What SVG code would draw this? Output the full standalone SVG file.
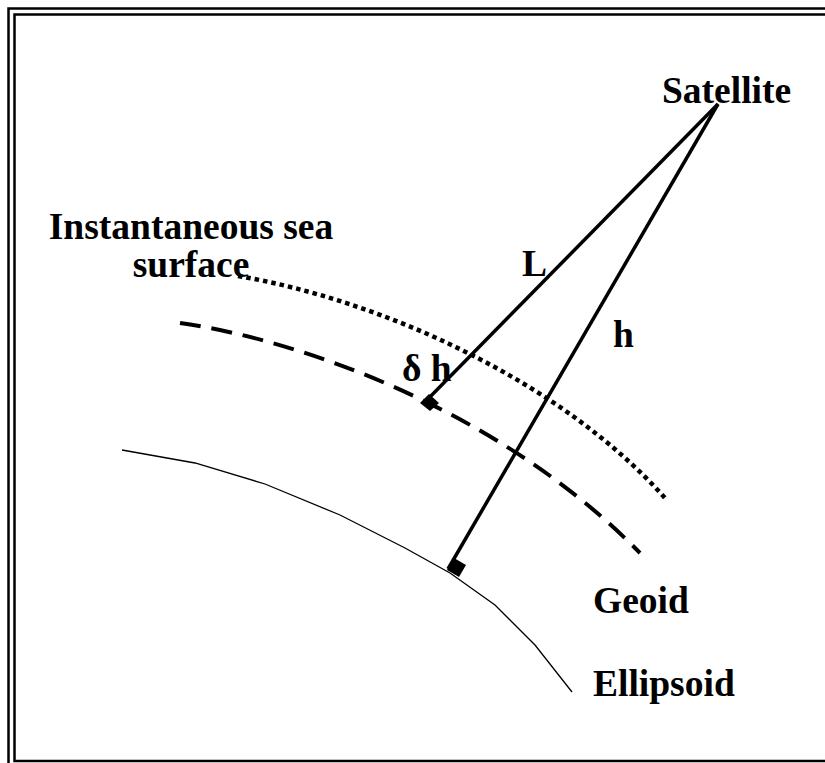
<svg xmlns="http://www.w3.org/2000/svg" width="825" height="763" viewBox="0 0 825 763">
<style>
text{font-family:"Liberation Serif","Times New Roman",serif;font-weight:bold;font-size:37.5px;fill:#000}
.frame{fill:none;stroke:#000;stroke-width:2.5}
.ray{stroke:#000;stroke-width:3.5;fill:none}
</style>
<rect width="825" height="763" fill="#fff"/>
<g id="frame">
<path class="frame" d="M8.5,800 V8.5 H830"/>
<path class="frame" d="M830,761 H14.5 V14.5 H830"/>
</g>
<g id="sea-surface">
<path d="M238,276 C380,300 560,380 665,498" fill="none" stroke="#000" stroke-width="4.5" stroke-dasharray="4.5 4"/>
<text x="191" y="239" text-anchor="middle">Instantaneous sea</text>
<text x="191" y="277" text-anchor="middle">surface</text>
</g>
<g id="geoid">
<path d="M180,323 C300,340 500,410 640,553" fill="none" stroke="#000" stroke-width="4" stroke-dasharray="21 11"/>
<text x="593" y="613">Geoid</text>
</g>
<g id="ellipsoid">
<polyline points="122,450 195,463 265,484 340,515 405,548 450,573 495,605 535,645 572,692" fill="none" stroke="#000" stroke-width="1.3"/>
<text x="593" y="696">Ellipsoid</text>
</g>
<g id="satellite">
<text x="662" y="103">Satellite</text>
</g>
<g id="connectors">
<line class="ray" x1="718" y1="104" x2="425" y2="402"/>
<line class="ray" x1="718" y1="104" x2="448" y2="569"/>
<polygon points="420,403 429,394 439,403 430,411" fill="#000"/>
<polygon points="447,570 454,558 466,565 459,577" fill="#000"/>
</g>
<g id="labels">
<text x="522" y="276">L</text>
<text x="613" y="347">h</text>
<text x="402" y="381">δ h</text>
</g>
</svg>
